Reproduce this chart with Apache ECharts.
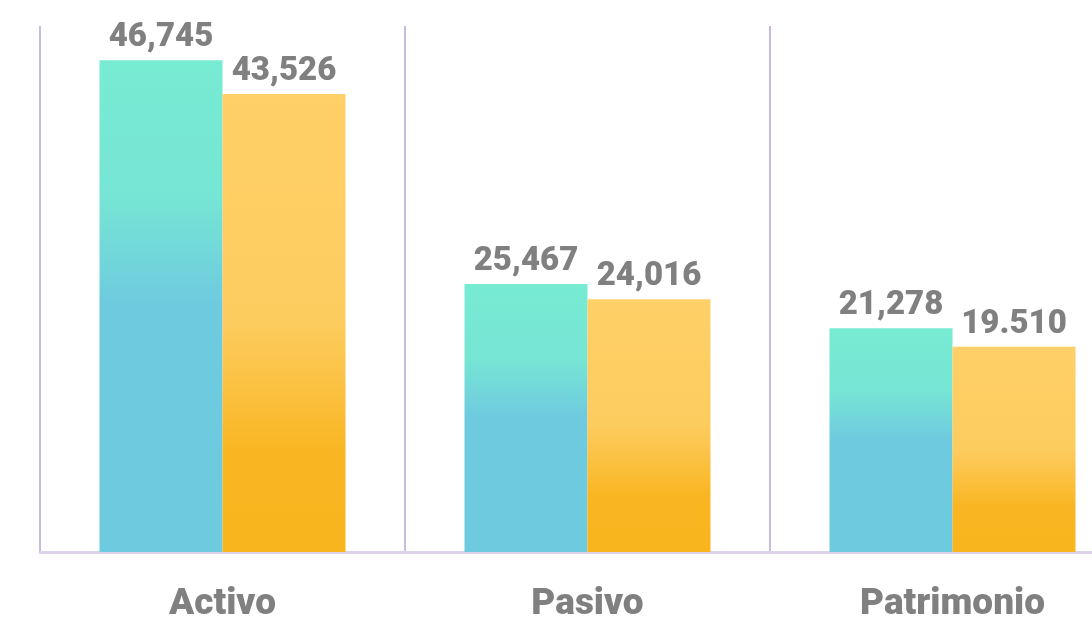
<!DOCTYPE html>
<html>
<head>
<meta charset="utf-8">
<script src="https://cdn.jsdelivr.net/npm/echarts@6/dist/echarts.min.js"></script>
<style>html,body{margin:0;padding:0;background:#fff}#c{width:1092px;height:623px}</style>
</head>
<body>
<div id="c"></div>
<script>
var categories = ['Activo', 'Pasivo', 'Patrimonio'];
var seriesA = [46745, 25467, 21278];
var seriesB = [43526, 24016, 19510];
var labelsA = ['46,745', '25,467', '21,278'];
var labelsB = ['43,526', '24,016', '19.510'];

var chart = echarts.init(document.getElementById('c'));
var labelStyle = {
  show: true, position: 'top', distance: 6,
  fontFamily: 'Roboto', fontWeight: 900, fontSize: 33, color: '#808080'
};
chart.setOption({
  animation: false,
  grid: { left: 40, width: 1095, top: 26, bottom: 71, outerBoundsMode: 'none', containLabel: false },
  xAxis: {
    type: 'category', data: categories,
    axisLine: { show: true, lineStyle: { color: '#ddd3ea', width: 3 } },
    axisTick: { show: false },
    splitLine: { show: true, interval: 0, lineStyle: { color: '#c9badf', width: 2 } },
    axisLabel: { margin: 34, fontFamily: 'Roboto', fontWeight: 900, fontSize: 37, color: '#808080' }
  },
  yAxis: {
    type: 'value', min: 0, max: 50000,
    show: false, splitLine: { show: false }
  },
  series: [
    {
      type: 'bar', data: seriesA, barWidth: 123, barGap: '0%',
      itemStyle: { color: new echarts.graphic.LinearGradient(0, 0, 0, 1, [
        { offset: 0, color: '#78ebd3' },
        { offset: 0.28, color: '#76e5d4' },
        { offset: 0.5, color: '#6ecadf' },
        { offset: 1, color: '#6ecadf' }
      ]) },
      label: Object.assign({}, labelStyle, { formatter: function (p) { return labelsA[p.dataIndex]; } })
    },
    {
      type: 'bar', data: seriesB, barWidth: 123,
      itemStyle: { color: new echarts.graphic.LinearGradient(0, 0, 0, 1, [
        { offset: 0, color: '#ffd067' },
        { offset: 0.5, color: '#fdcc5f' },
        { offset: 0.78, color: '#f9b622' },
        { offset: 1, color: '#f9b51d' }
      ]) },
      label: Object.assign({}, labelStyle, { formatter: function (p) { return labelsB[p.dataIndex]; } })
    }
  ]
});
</script>
</body>
</html>
